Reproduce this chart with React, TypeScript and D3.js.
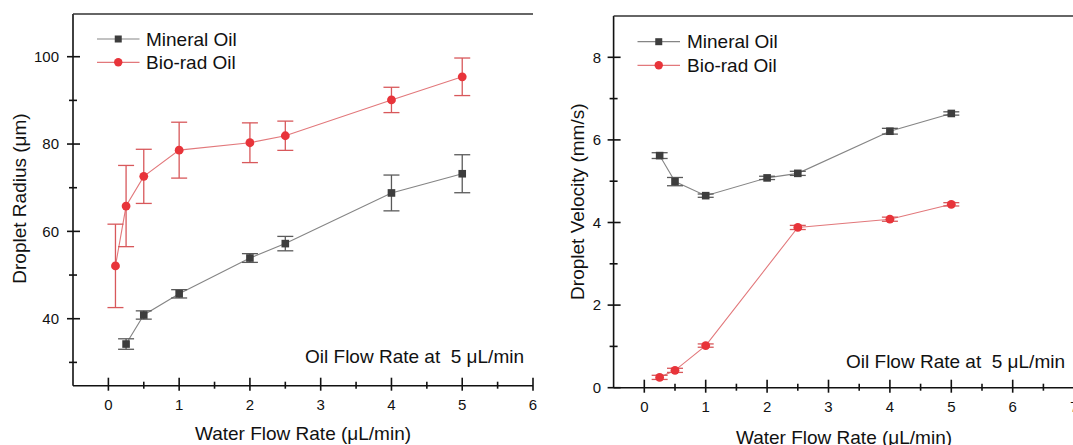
import React from "react";
import * as d3 from "d3";

// ---- Data ----
const flowMineral = [0.25, 0.5, 1, 2, 2.5, 4, 5];
const radiusMineral = [34.2, 40.85, 45.7, 53.9, 57.2, 68.8, 73.2];
const radiusMineralErr = [1.2, 0.95, 0.95, 1.0, 1.65, 4.1, 4.35];

const flowBiorad = [0.1, 0.25, 0.5, 1, 2, 2.5, 4, 5];
const radiusBiorad = [52.1, 65.8, 72.6, 78.6, 80.3, 81.9, 90.1, 95.4];
const radiusBioradErr = [9.55, 9.3, 6.2, 6.4, 4.55, 3.35, 2.9, 4.3];

const velFlowMineral = [0.25, 0.5, 1, 2, 2.5, 4, 5];
const velocityMineral = [5.62, 4.99, 4.65, 5.08, 5.19, 6.21, 6.64];
const velocityMineralErr = [0.07, 0.1, 0.04, 0.04, 0.05, 0.07, 0.04];

const velFlowBiorad = [0.25, 0.5, 1, 2.5, 4, 5];
const velocityBiorad = [0.25, 0.42, 1.02, 3.88, 4.08, 4.44];
const velocityBioradErr = [0.05, 0.05, 0.04, 0.05, 0.05, 0.04];

const legendLabels = ["Mineral Oil", "Bio-rad Oil"];
const leftXMajor = [0, 1, 2, 3, 4, 5, 6];
const leftXMinor = [0.5, 1.5, 2.5, 3.5, 4.5, 5.5];
const leftYMajor = [40, 60, 80, 100];
const leftYMinor = [30, 50, 70, 90];
const rightXMajor = [0, 1, 2, 3, 4, 5, 6, 7];
const rightXMinor = [0.5, 1.5, 2.5, 3.5, 4.5, 5.5, 6.5];
const rightYMajor = [0, 2, 4, 6, 8];
const rightYMinor = [1, 3, 5, 7];

const FONT = "'Liberation Sans', Arial, sans-serif";
const GRAY_MARK = "#3d3d3d";
const GRAY_LINE = "#858585";
const GRAY_ERR = "#5a5a5a";
const RED_MARK = "#e8343a";
const RED_LINE = "#e2787b";
const RED_ERR = "#d8585b";

type Series = { xs: number[]; ys: number[]; err: number[]; kind: "sq" | "ci" };

function Panel(props: {
  xRange: [number, number];
  yRange: [number, number];
  xDomain: [number, number];
  yDomain: [number, number];
  xMajor: number[];
  xMinor: number[];
  yMajor: number[];
  yMinor: number[];
  series: Series[];
  yTitle: string;
  yTitleX: number;
  yTitleY: number;
  xTitleX: number;
  xTitleY: number;
  xTickY: number;
  yTickX: number;
  legendX: [number, number, number];
  legendY: [number, number];
  legendTextDy: number;
  annX: number;
  annY: number;
}) {
  const x = d3.scaleLinear().domain(props.xDomain).range(props.xRange);
  const y = d3.scaleLinear().domain(props.yDomain).range(props.yRange);
  const x0 = props.xRange[0];
  const x1 = props.xRange[1];
  const yb = props.yRange[0];
  const yt = props.yRange[1];
  const line = d3
    .line<[number, number]>()
    .x((d) => x(d[0]))
    .y((d) => y(d[1]));
  const cap = 8;
  return (
    <g>
      {/* data */}
      {props.series.map((s, si) => {
        const lc = s.kind === "sq" ? GRAY_LINE : RED_LINE;
        const ec = s.kind === "sq" ? GRAY_ERR : RED_ERR;
        const pts = s.xs.map((v, i) => [v, s.ys[i]] as [number, number]);
        return (
          <g key={si}>
            <path d={line(pts) || ""} fill="none" stroke={lc} strokeWidth={1.1} />
            {pts.map((p, i) => {
              const cx = x(p[0]);
              const top = y(p[1] + s.err[i]);
              const bot = y(p[1] - s.err[i]);
              return (
                <g key={i} stroke={ec} strokeWidth={1.3}>
                  <line x1={cx} x2={cx} y1={top} y2={bot} />
                  <line x1={cx - cap} x2={cx + cap} y1={top} y2={top} />
                  <line x1={cx - cap} x2={cx + cap} y1={bot} y2={bot} />
                </g>
              );
            })}
            {pts.map((p, i) =>
              s.kind === "sq" ? (
                <rect key={"m" + i} x={x(p[0]) - 3.8} y={y(p[1]) - 3.8} width={7.6} height={7.6} fill={GRAY_MARK} />
              ) : (
                <circle key={"m" + i} cx={x(p[0])} cy={y(p[1])} r={4.4} fill={RED_MARK} />
              )
            )}
          </g>
        );
      })}
      {/* axes */}
      <g stroke="#111" strokeWidth={1.6}>
        <line x1={x0} x2={x0} y1={yt} y2={yb} />
        <line x1={x0} x2={x1} y1={yb} y2={yb} />
        <line x1={x0} x2={x1} y1={yt} y2={yt} stroke="#333" />
        {props.xMajor.map((v) => (
          <line key={"xM" + v} x1={x(v)} x2={x(v)} y1={yb - 8} y2={yb + 5} />
        ))}
        {props.xMinor.map((v) => (
          <line key={"xm" + v} x1={x(v)} x2={x(v)} y1={yb - 4} y2={yb + 3} />
        ))}
        {props.yMajor.map((v) => (
          <line key={"yM" + v} x1={x0 - 6} x2={x0 + 7} y1={y(v)} y2={y(v)} />
        ))}
        {props.yMinor.map((v) => (
          <line key={"ym" + v} x1={x0 - 4} x2={x0 + 4} y1={y(v)} y2={y(v)} />
        ))}
      </g>
      <g fontFamily={FONT} fontSize={15} fill="#111">
        {props.xMajor.map((v) => (
          <text key={"xl" + v} x={x(v)} y={props.xTickY} textAnchor="middle">
            {v}
          </text>
        ))}
        {props.yMajor.map((v) => (
          <text key={"yl" + v} x={props.yTickX} y={y(v) + 5.3} textAnchor="end">
            {v}
          </text>
        ))}
      </g>
      <g fontFamily={FONT} fontSize={19} fill="#111">
        <text
          transform={`translate(${props.yTitleX},${props.yTitleY}) rotate(-90)`}
          textAnchor="middle"
        >
          {props.yTitle}
        </text>
        <text x={props.xTitleX} y={props.xTitleY} textAnchor="middle">
          Water Flow Rate (μL/min)
        </text>
        <text x={props.annX} y={props.annY} textAnchor="end" style={{ whiteSpace: "pre" }}>
          {"Oil Flow Rate at  5 μL/min"}
        </text>
        {legendLabels.map((lab, i) => (
          <g key={lab}>
            <line
              x1={props.legendX[0]}
              x2={props.legendX[1]}
              y1={props.legendY[i]}
              y2={props.legendY[i]}
              stroke={i === 0 ? GRAY_LINE : RED_LINE}
              strokeWidth={1.2}
            />
            {i === 0 ? (
              <rect
                x={(props.legendX[0] + props.legendX[1]) / 2 - 3.5}
                y={props.legendY[i] - 3.5}
                width={7}
                height={7}
                fill={GRAY_MARK}
              />
            ) : (
              <circle cx={(props.legendX[0] + props.legendX[1]) / 2} cy={props.legendY[i]} r={4.2} fill={RED_MARK} />
            )}
            <text x={props.legendX[2]} y={props.legendY[i] + props.legendTextDy}>
              {lab}
            </text>
          </g>
        ))}
      </g>
    </g>
  );
}

export default function App() {
  return (
    <svg
      width={1073}
      height={445}
      style={{ position: "absolute", left: 0, top: 0, background: "#fff" }}
    >
      <rect x={0} y={0} width={1073} height={445} fill="#fff" />
      <Panel
        xRange={[73, 533]}
        yRange={[385.7, 14]}
        xDomain={[-0.5, 6]}
        yDomain={[24.66, 109.78]}
        xMajor={leftXMajor}
        xMinor={leftXMinor}
        yMajor={leftYMajor}
        yMinor={leftYMinor}
        series={[
          { xs: flowMineral, ys: radiusMineral, err: radiusMineralErr, kind: "sq" },
          { xs: flowBiorad, ys: radiusBiorad, err: radiusBioradErr, kind: "ci" },
        ]}
        yTitle="Droplet Radius (μm)"
        yTitleX={26}
        yTitleY={198.5}
        xTitleX={303}
        xTitleY={440}
        xTickY={410}
        yTickX={59}
        legendX={[97, 139.5, 146]}
        legendY={[39, 62.3]}
        legendTextDy={6.5}
        annX={524}
        annY={363}
      />
      <Panel
        xRange={[613.6, 1074.1]}
        yRange={[387.7, 16]}
        xDomain={[-0.5, 7]}
        yDomain={[0, 9]}
        xMajor={rightXMajor}
        xMinor={rightXMinor}
        yMajor={rightYMajor}
        yMinor={rightYMinor}
        series={[
          { xs: velFlowMineral, ys: velocityMineral, err: velocityMineralErr, kind: "sq" },
          { xs: velFlowBiorad, ys: velocityBiorad, err: velocityBioradErr, kind: "ci" },
        ]}
        yTitle="Droplet Velocity (mm/s)"
        yTitleX={583.5}
        yTitleY={201.7}
        xTitleX={844}
        xTitleY={443.6}
        xTickY={412}
        yTickX={601}
        legendX={[637.5, 680, 687]}
        legendY={[41.7, 65.3]}
        legendTextDy={6.5}
        annX={1065}
        annY={368}
      />
    </svg>
  );
}
